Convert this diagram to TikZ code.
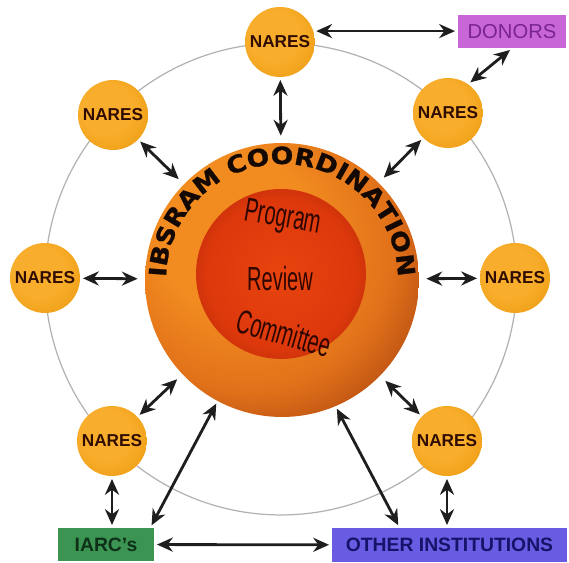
\documentclass[tikz,border=0pt]{standalone}
\usepackage{fontspec}
\setmainfont{Liberation Sans}
\newfontfamily\arcfont[FakeStretch=1.12, FakeBold=1.2]{DejaVu Sans}
\newfontfamily\narrowfont[FakeStretch=0.6]{Liberation Sans}
\usetikzlibrary{arrows.meta, calc, decorations.text}

\definecolor{naresA}{HTML}{F8AE2C}
\definecolor{naresB}{HTML}{F0A018}
\definecolor{naresC}{HTML}{DC880E}
\definecolor{naresText}{HTML}{300C02}
\definecolor{coreA}{HTML}{F28C20}
\definecolor{coreB}{HTML}{E2721A}
\definecolor{coreC}{HTML}{A23C0E}
\definecolor{coreD}{HTML}{5E1404}
\definecolor{redA}{HTML}{E8440F}
\definecolor{redB}{HTML}{DC380C}
\definecolor{redC}{HTML}{B82808}
\definecolor{innerText}{HTML}{2E0600}
\definecolor{arcText}{HTML}{140802}
\definecolor{donorsFill}{HTML}{C866D8}
\definecolor{donorsText}{HTML}{7A2490}
\definecolor{iarcFill}{HTML}{3C9452}
\definecolor{iarcText}{HTML}{0E3018}
\definecolor{otherFill}{HTML}{6A5CE2}
\definecolor{otherText}{HTML}{16146A}
\definecolor{linkGray}{HTML}{1E1E1E}

\pgfdeclareradialshading{naresball}{\pgfpoint{-8bp}{8bp}}{%
  color(0bp)=(naresA); color(18bp)=(naresA); color(30bp)=(naresB); color(42bp)=(naresC)}
\pgfdeclareradialshading{coreball}{\pgfpoint{-12bp}{12bp}}{%
  color(0bp)=(coreA); color(14bp)=(coreA); color(26bp)=(coreB); color(38bp)=(coreC); color(52bp)=(coreD)}
\pgfdeclareradialshading{redball}{\pgfpoint{0bp}{0bp}}{%
  color(0bp)=(redA); color(22bp)=(redB); color(32bp)=(redC)}

\begin{document}
\begin{tikzpicture}[
        x=0.02cm, y=-0.02cm,
        >={Stealth[length=9pt,width=8pt]},
        nares/.style={circle, shade, shading=naresball, minimum size=1.4cm, inner sep=0pt,
                      font=\bfseries\fontsize{9.8}{10}\selectfont, text=naresText},
        tag/.style={minimum height=0.66cm, inner sep=2pt},
        link/.style={<->, line width=1.6pt, draw=linkGray, shorten <=1.5pt, shorten >=1.5pt},
        ring/.style={draw=gray!60, line width=0.7pt},
        inword/.style={font=\narrowfont\fontsize{19}{19}\selectfont, text=innerText, inner sep=1pt}
    ]
        \useasboundingbox (0,0) rectangle (569,563);

        \draw[ring] (281,279) circle[radius=4.72cm];

        \node[circle, shade, shading=coreball, minimum size=5.48cm] (core)   at (282,280) {};
        \node[circle, shade, shading=redball, minimum size=3.4cm]   (review) at (281,274) {};
        \node[inword, rotate=-10] (prog)  at (283,219) {Program};
        \node[inword]             (rev)   at (280,279) {Review};
        \node[inword, rotate=-16] (comm)  at (284,333) {Committee};

        \path[decorate, decoration={text along path, text align=center, text color=arcText,
                text={|\arcfont\bfseries\fontsize{13.5}{14}\selectfont|IBSRAM COORDINATION}}]
            ($(core.center)+(189:2.32cm)$) arc[start angle=189, end angle=-9, radius=2.32cm];

        \node[nares] (naresN)  at (280,42)  {NARES};
        \node[nares] (naresNE) at (448,113) {NARES};
        \node[nares] (naresE)  at (515,278) {NARES};
        \node[nares] (naresSE) at (447,441) {NARES};
        \node[nares] (naresSW) at (112,441) {NARES};
        \node[nares] (naresW)  at (45,278)  {NARES};
        \node[nares] (naresNW) at (113,115) {NARES};

        \node[tag, fill=donorsFill, text=donorsText, minimum width=2.16cm,
              font=\fontsize{11.5}{12}\selectfont] (donors) at (512,31.5) {DONORS};
        \node[tag, fill=iarcFill, text=iarcText, minimum width=1.92cm,
              font=\bfseries\fontsize{11}{12}\selectfont] (iarc) at (106,544.5) {IARC's};
        \node[tag, fill=otherFill, text=otherText, minimum width=4.7cm, minimum height=0.68cm,
              font=\bfseries\fontsize{11}{12}\selectfont] (other) at (449.5,545) {OTHER INSTITUTIONS};

        \draw[link] (naresN.18) -- (naresN.18 -| donors.west);
        \draw[link] (naresNE.55) -- (donors.south);
        \foreach \n in {naresN, naresNE, naresE, naresSE, naresSW, naresW, naresNW}
            \draw[link, shorten >=4pt] (\n) -- (core);
        \draw[link] (naresSW) -- (naresSW |- iarc.north);
        \draw[link] (naresSE) -- (naresSE |- other.north);
        \draw[link] (core.242) -- ($(iarc.north east)+(-4,0)$);
        \draw[link] (core.293) -- ($(other.north)+(-50,0)$);
        \draw[link] (iarc) -- (other);
    \end{tikzpicture}
\end{document}
